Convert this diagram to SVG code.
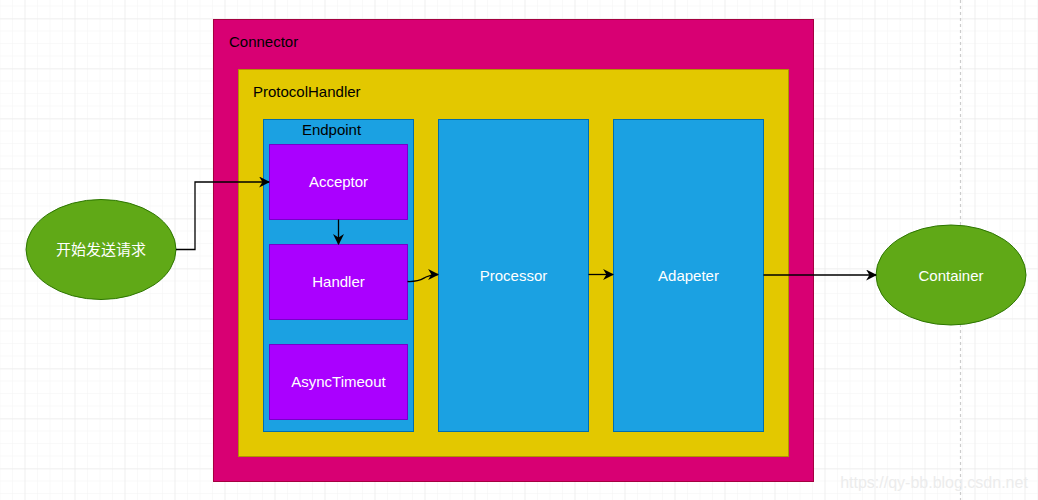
<svg xmlns="http://www.w3.org/2000/svg" width="1038" height="500" viewBox="0 0 1038 500">
<defs>
<pattern id="gminor" x="0.5" y="6.5" width="12.5" height="12.5" patternUnits="userSpaceOnUse">
<path d="M12.5 0V12.5M0 12.5H12.5" fill="none" stroke="#f3f3f3" stroke-width="1"/>
</pattern>
<pattern id="gmajor" x="-24.5" y="-30.5" width="50" height="50" patternUnits="userSpaceOnUse">
<path d="M50 0V50M0 50H50" fill="none" stroke="#e6e6e6" stroke-width="1"/>
</pattern>
<marker id="arr" viewBox="0 0 10 10" refX="9" refY="5" markerWidth="11" markerHeight="11" markerUnits="userSpaceOnUse" orient="auto">
<path d="M0 0L10 5L0 10L3 5Z" fill="#000"/>
</marker>
<style>
.lbl{font-family:"Liberation Sans",Arial,sans-serif;font-size:15px;}
.w{fill:#ffffff;text-anchor:middle;dominant-baseline:central;}
.k{fill:#000000;}
.purple{fill:#aa00ff;stroke:#7700cc;stroke-width:1;}
.blue{fill:#1ba1e2;stroke:#006eaf;stroke-width:1;}
.green{fill:#60a917;stroke:#2d7600;stroke-width:1;}
.edge{fill:none;stroke:#000;stroke-width:1.3;}
</style>
</defs>
<rect width="1038" height="500" fill="#ffffff"/>
<rect width="1038" height="500" fill="url(#gminor)"/>
<rect width="1038" height="500" fill="url(#gmajor)"/>
<line x1="960.5" y1="0" x2="960.5" y2="500" stroke="#cccccc" stroke-width="1.2" stroke-dasharray="3 3"/>

<g id="connector">
<rect x="213.5" y="19.5" width="600" height="462" fill="#d80073" stroke="#a50040"/>
<text class="lbl k" x="229" y="47">Connector</text>
</g>
<g id="protocolhandler">
<rect x="238.5" y="69.5" width="550" height="387" fill="#e3c800" stroke="#b09500"/>
<text class="lbl k" x="253" y="97">ProtocolHandler</text>
</g>
<g id="endpoint">
<rect class="blue" x="263.5" y="119.5" width="150" height="312"/>
<text class="lbl k" x="331.5" y="135" text-anchor="middle">Endpoint</text>
</g>
<g id="acceptor">
<rect class="purple" x="269.5" y="144.5" width="138" height="75"/>
<text class="lbl w" x="338.5" y="181.5">Acceptor</text>
</g>
<g id="handler">
<rect class="purple" x="269.5" y="244.5" width="138" height="75"/>
<text class="lbl w" x="338.5" y="281.5">Handler</text>
</g>
<g id="asynctimeout">
<rect class="purple" x="269.5" y="344.5" width="138" height="75"/>
<text class="lbl w" x="338.5" y="381.5">AsyncTimeout</text>
</g>
<g id="processor">
<rect class="blue" x="438.5" y="119.5" width="150" height="312"/>
<text class="lbl w" x="513.5" y="275">Processor</text>
</g>
<g id="adapeter">
<rect class="blue" x="613.5" y="119.5" width="150" height="312"/>
<text class="lbl w" x="688.5" y="275">Adapeter</text>
</g>
<g id="start">
<ellipse class="green" cx="101" cy="249.5" rx="75" ry="50"/>
<text class="lbl w" x="101" y="249.5" style="font-family:'Liberation Sans','Noto Sans CJK SC',sans-serif">开始发送请求</text>
</g>
<g id="container">
<ellipse class="green" cx="951" cy="275" rx="75" ry="50"/>
<text class="lbl w" x="951" y="275">Container</text>
</g>

<g id="connectors">
<path class="edge" d="M176 249.5H195V182H269" marker-end="url(#arr)"/>
<path class="edge" d="M338.5 219.5V244" marker-end="url(#arr)"/>
<path class="edge" d="M407.5 281.5C420 282 422 279 426 277C430 275 433 274.5 438 274.5" marker-end="url(#arr)"/>
<path class="edge" d="M588.5 274.5H613" marker-end="url(#arr)"/>
<path class="edge" d="M763.5 275H876" marker-end="url(#arr)"/>
</g>

<text x="934" y="488" text-anchor="middle" font-family="'Liberation Sans',Arial,sans-serif" font-size="16" fill="#ececec">https://qy-bb.blog.csdn.net</text>
</svg>
